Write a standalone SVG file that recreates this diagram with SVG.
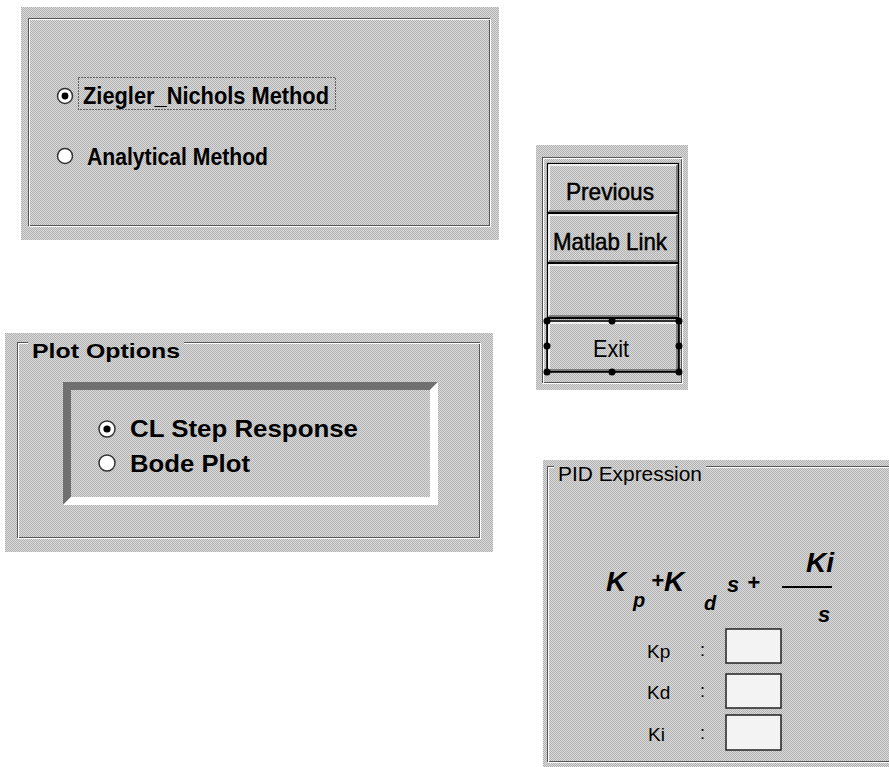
<svg xmlns="http://www.w3.org/2000/svg" width="889" height="767" viewBox="0 0 889 767">
<defs>
<pattern id="dith" width="2" height="2" patternUnits="userSpaceOnUse">
<rect width="2" height="2" fill="#dadada"/>
<rect width="1" height="1" fill="#b2b2b2"/>
<rect x="1" y="1" width="1" height="1" fill="#b2b2b2"/>
</pattern>
</defs>
<style>
.bg{fill:url(#dith)}
.ed{fill:none;stroke:#555;stroke-width:1}
.el{fill:none;stroke:#fff;stroke-width:1}
.t{font-family:"Liberation Sans",Arial,sans-serif;fill:#000}
.b{font-weight:bold}
.bt{stroke:#000;stroke-width:0.5}
.radio{fill:#fff;stroke:#333;stroke-width:1.5}
.dot{fill:#000}
.btn{fill:url(#dith);stroke:#000;stroke-width:1.2}
.hl{fill:none;stroke:#fff;stroke-width:1.5}
.sh{fill:none;stroke:#666;stroke-width:1.5}
.h{fill:#000}
.m{font-family:"Liberation Sans",Arial,sans-serif;font-weight:bold;font-style:italic;fill:#000}
.box{fill:#f3f3f3;stroke:#222;stroke-width:1.5}
</style>
<rect width="889" height="767" fill="#fff"/>

<g id="method-panel">
<rect class="bg" x="21" y="7" width="478" height="233"/>
<rect class="ed" x="28.5" y="18.5" width="461" height="207"/>
<rect class="el" x="29.5" y="19.5" width="461" height="207"/>
<circle class="radio" cx="65" cy="96" r="7.5"/>
<circle class="dot" cx="65" cy="96" r="3.4"/>
<rect x="78.5" y="77.5" width="257" height="32" fill="none" stroke="#000" stroke-width="1" stroke-dasharray="1,2"/>
<text class="t b" x="83" y="104" font-size="23" textLength="246" lengthAdjust="spacingAndGlyphs">Ziegler_Nichols Method</text>
<circle class="radio" cx="65" cy="156" r="7.5"/>
<text class="t b" x="87" y="165" font-size="23" textLength="181" lengthAdjust="spacingAndGlyphs">Analytical Method</text>
</g>

<g id="button-panel">
<rect class="bg" x="536" y="145" width="152" height="245"/>
<rect class="ed" x="542.5" y="157.5" width="139" height="225"/>
<rect class="el" x="543.5" y="158.5" width="139" height="225"/>
<g id="btn-previous">
<rect class="btn" x="547.5" y="163.5" width="131" height="49"/>
<polyline class="hl" points="549,211 549,165 677,165"/>
<polyline class="sh" points="549,211 677,211 677,165"/>
<text class="t bt" x="610" y="200" font-size="24" text-anchor="middle" textLength="88" lengthAdjust="spacingAndGlyphs">Previous</text>
</g>
<g id="btn-matlab">
<rect class="btn" x="547.5" y="213.5" width="131" height="49"/>
<polyline class="hl" points="549,261 549,215 677,215"/>
<polyline class="sh" points="549,261 677,261 677,215"/>
<text class="t bt" x="610" y="250" font-size="24" text-anchor="middle" textLength="114" lengthAdjust="spacingAndGlyphs">Matlab Link</text>
</g>
<g id="btn-empty">
<rect class="btn" x="547.5" y="263.5" width="131" height="54"/>
<polyline class="hl" points="549,316 549,265 677,265"/>
<polyline class="sh" points="549,316 677,316 677,265"/>
</g>
<g id="btn-exit">
<rect class="btn" x="547.5" y="318.5" width="131" height="53"/>
<polyline class="hl" points="549,370 549,323 677,323"/>
<polyline class="sh" points="549,370 677,370 677,323"/>
<rect x="547" y="321" width="132" height="51" fill="none" stroke="#000" stroke-width="1.5"/>
<text class="t" x="611" y="357" font-size="24" text-anchor="middle" textLength="36" lengthAdjust="spacingAndGlyphs">Exit</text>
<circle class="h" cx="547" cy="321" r="3.5"/>
<circle class="h" cx="612" cy="321" r="3.5"/>
<circle class="h" cx="679" cy="321" r="3.5"/>
<circle class="h" cx="547" cy="346" r="3.5"/>
<circle class="h" cx="679" cy="346" r="3.5"/>
<circle class="h" cx="547" cy="372" r="3.5"/>
<circle class="h" cx="612" cy="372" r="3.5"/>
<circle class="h" cx="679" cy="372" r="3.5"/>
</g>
</g>

<g id="plot-options">
<rect class="bg" x="5" y="333" width="488" height="219"/>
<rect class="ed" x="17.5" y="342.5" width="462" height="195"/>
<rect class="el" x="18.5" y="343.5" width="462" height="195"/>
<rect class="bg" x="28" y="337" width="156" height="24"/>
<text class="t b" x="32" y="358" font-size="21" textLength="148" lengthAdjust="spacingAndGlyphs">Plot Options</text>
<polygon points="63,382 438,382 430,390 71,390 71,497 63,505" fill="#707070"/>
<polygon points="438,382 438,505 63,505 71,497 430,497 430,390" fill="#fff"/>
<circle class="radio" cx="107" cy="429" r="8"/>
<circle class="dot" cx="107" cy="429" r="3.6"/>
<text class="t b" x="130" y="437" font-size="24" textLength="228" lengthAdjust="spacingAndGlyphs">CL Step Response</text>
<circle class="radio" cx="107" cy="463" r="8"/>
<text class="t b" x="130" y="472" font-size="24" textLength="120" lengthAdjust="spacingAndGlyphs">Bode Plot</text>
</g>

<g id="pid-expression">
<rect class="bg" x="543" y="460" width="346" height="307"/>
<rect class="ed" x="547.5" y="466.5" width="360" height="295"/>
<rect class="el" x="548.5" y="467.5" width="360" height="295"/>
<rect class="bg" x="554" y="461" width="152" height="24"/>
<text class="t" x="558" y="481" font-size="21" textLength="144" lengthAdjust="spacingAndGlyphs">PID Expression</text>
<text class="m" x="606" y="591" font-size="28">K</text>
<text class="m" x="633" y="607" font-size="20">p</text>
<text class="m" x="651" y="588" font-size="22">+</text>
<text class="m" x="664" y="591" font-size="28">K</text>
<text class="m" x="704" y="610" font-size="20">d</text>
<text class="m" x="727" y="592" font-size="22">s</text>
<text class="m" x="747" y="590" font-size="22">+</text>
<line x1="782" y1="587" x2="832" y2="587" stroke="#000" stroke-width="2"/>
<text class="m" x="806" y="572" font-size="28">Ki</text>
<text class="m" x="818" y="622" font-size="22">s</text>
<text class="t" x="647" y="658" font-size="19">Kp</text>
<text class="t" x="700" y="656" font-size="18">:</text>
<rect class="box" x="726" y="629" width="55" height="34"/>
<text class="t" x="647" y="699" font-size="19">Kd</text>
<text class="t" x="700" y="697" font-size="18">:</text>
<rect class="box" x="726" y="674" width="55" height="34"/>
<text class="t" x="648" y="741" font-size="19">Ki</text>
<text class="t" x="700" y="739" font-size="18">:</text>
<rect class="box" x="726" y="715" width="55" height="35"/>
</g>
</svg>
